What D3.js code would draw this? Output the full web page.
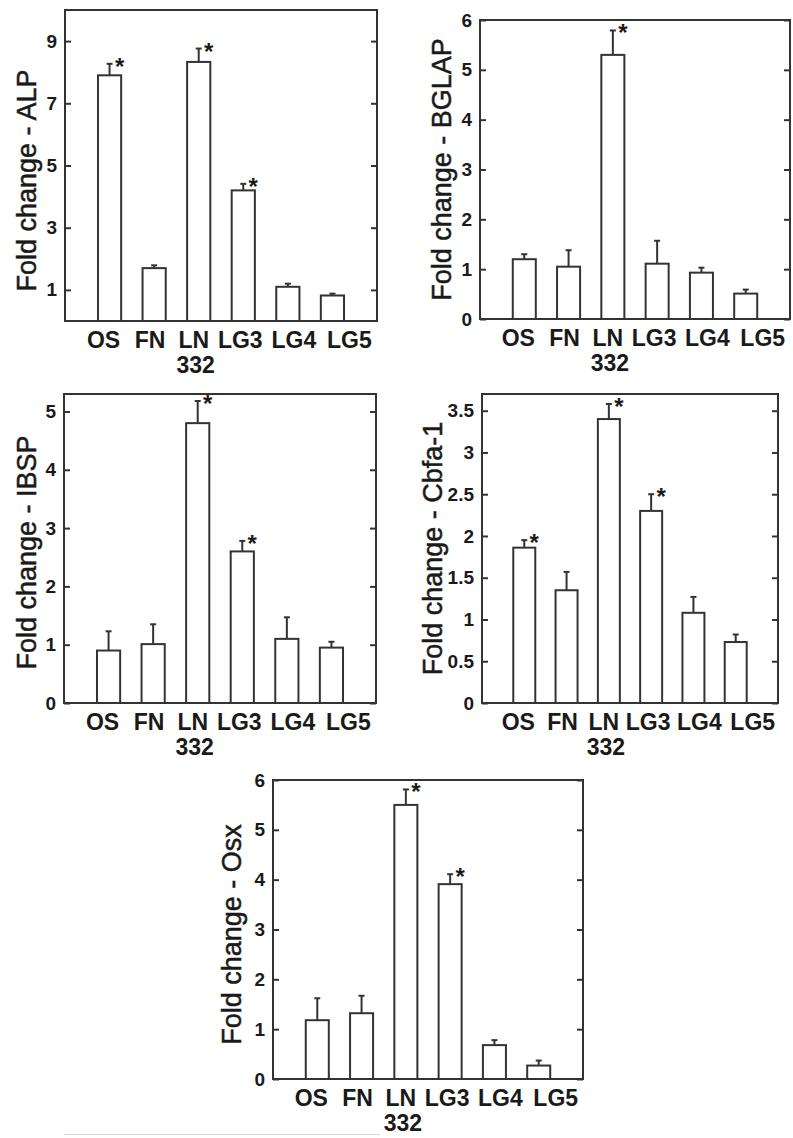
<!DOCTYPE html>
<html>
<head>
<meta charset="utf-8">
<script src="https://cdn.jsdelivr.net/npm/d3@7"></script>
<style>
  body { margin: 0; background: #fff; }
  text { font-family: "Liberation Sans", Arial, sans-serif; fill: #1a1a1a; }
</style>
</head>
<body>
<div id="chart-area"></div>
<script>
// categories shared by every panel
let categories = ["OS", "FN", "LN", "LG3", "LG4", "LG5"];
let groupLabel = "332";

// ALP
let alpMean = [7.9, 1.7, 8.33, 4.2, 1.1, 0.82];
let alpErr = [0.37, 0.09, 0.43, 0.21, 0.1, 0.06];
let alpStars = ["OS", "LN", "LG3"];
let alpTicks = [1, 3, 5, 7, 9];

// BGLAP
let bglapMean = [1.2, 1.05, 5.3, 1.11, 0.93, 0.51];
let bglapErr = [0.1, 0.33, 0.49, 0.46, 0.1, 0.08];
let bglapStars = ["LN"];
let bglapTicks = [0, 1, 2, 3, 4, 5, 6];

// IBSP
let ibspMean = [0.9, 1.01, 4.8, 2.6, 1.1, 0.95];
let ibspErr = [0.33, 0.34, 0.38, 0.18, 0.37, 0.1];
let ibspStars = ["LN", "LG3"];
let ibspTicks = [0, 1, 2, 3, 4, 5];

// Cbfa-1
let cbfaMean = [1.86, 1.35, 3.4, 2.3, 1.08, 0.73];
let cbfaErr = [0.09, 0.22, 0.18, 0.2, 0.19, 0.09];
let cbfaStars = ["OS", "LN", "LG3"];
let cbfaTicks = [0, 0.5, 1, 1.5, 2, 2.5, 3, 3.5];

// Osx
let osxMean = [1.18, 1.32, 5.5, 3.91, 0.68, 0.27];
let osxErr = [0.44, 0.35, 0.31, 0.2, 0.1, 0.1];
let osxStars = ["LN", "LG3"];
let osxTicks = [0, 1, 2, 3, 4, 5, 6];

// layout of the five panels (frame box in page pixels)
let panels = [
  { title: "Fold change - ALP", mean: alpMean, err: alpErr, stars: alpStars, ticks: alpTicks, max: 10,
    x: 65, y: 10, w: 312, h: 311, titleX: -38, titleDy: 15 },
  { title: "Fold change - BGLAP", mean: bglapMean, err: bglapErr, stars: bglapStars, ticks: bglapTicks, max: 6,
    x: 480, y: 20, w: 310, h: 299, titleX: -38, titleDy: 0 },
  { title: "Fold change - IBSP", mean: ibspMean, err: ibspErr, stars: ibspStars, ticks: ibspTicks, max: 5.3,
    x: 64, y: 394, w: 312, h: 309, titleX: -37, titleDy: 4 },
  { title: "Fold change - Cbfa-1", mean: cbfaMean, err: cbfaErr, stars: cbfaStars, ticks: cbfaTicks, max: 3.7,
    x: 482, y: 394, w: 296, h: 309, titleX: -49, titleDy: 0 },
  { title: "Fold change - Osx", mean: osxMean, err: osxErr, stars: osxStars, ticks: osxTicks, max: 6,
    x: 273, y: 780, w: 310, h: 299, titleX: -41, titleDy: 5 }
];

// the category text is typed a bit wider than the bars
let labelShift = [-6, -4, -5, -3, 6, 17];

let svg = d3.select("#chart-area").append("svg")
  .attr("width", 793).attr("height", 1138)
  .style("background", "#fff");

// faint rule at the page bottom
svg.append("line")
  .attr("x1", 64).attr("x2", 380).attr("y1", 1134.5).attr("y2", 1134.5)
  .attr("stroke", "#d6d6d6").attr("stroke-width", 1);

panels.forEach(p => {
  let g = svg.append("g").attr("transform", `translate(${p.x},${p.y})`);

  let x = d3.scalePoint().domain(categories).range([0, p.w]).padding(1);
  let y = d3.scaleLinear().domain([0, p.max]).range([p.h, 0]);
  let bw = x.step() * 0.52;

  // left axis with labels, ticks pointing inward
  let left = g.append("g").call(d3.axisLeft(y).tickValues(p.ticks).tickSize(-6).tickPadding(8).tickFormat(d => String(d)));
  left.select(".domain").remove();
  left.selectAll("line").attr("stroke", "#333").attr("stroke-width", 2);
  left.selectAll("text").attr("font-size", 19).attr("font-weight", "bold")
    .attr("font-family", "'Liberation Sans', Arial, sans-serif").attr("fill", "#1a1a1a");

  // right axis, ticks only
  let right = g.append("g").attr("transform", `translate(${p.w},0)`)
    .call(d3.axisRight(y).tickValues(p.ticks).tickSize(-6).tickFormat(""));
  right.select(".domain").remove();
  right.selectAll("line").attr("stroke", "#333").attr("stroke-width", 2);

  // frame
  g.append("rect").attr("width", p.w).attr("height", p.h)
    .attr("fill", "none").attr("stroke", "#333").attr("stroke-width", 2);

  let rows = categories.map((c, i) => ({ c: c, i: i, m: p.mean[i], e: p.err[i] }));

  // error bars
  g.selectAll(".err").data(rows).enter().append("line")
    .attr("x1", d => x(d.c)).attr("x2", d => x(d.c))
    .attr("y1", d => y(d.m)).attr("y2", d => y(d.m + d.e))
    .attr("stroke", "#333").attr("stroke-width", 2);
  g.selectAll(".cap").data(rows).enter().append("line")
    .attr("x1", d => x(d.c) - 3).attr("x2", d => x(d.c) + 3)
    .attr("y1", d => y(d.m + d.e)).attr("y2", d => y(d.m + d.e))
    .attr("stroke", "#333").attr("stroke-width", 2);

  // bars
  g.selectAll(".bar").data(rows).enter().append("rect")
    .attr("x", d => x(d.c) - bw / 2)
    .attr("y", d => y(d.m))
    .attr("width", bw)
    .attr("height", d => y(0) - y(d.m))
    .attr("fill", "#fff").attr("stroke", "#333").attr("stroke-width", 2);

  // significance stars
  g.selectAll(".star").data(rows.filter(d => p.stars.includes(d.c))).enter().append("text")
    .attr("x", d => x(d.c) + 10)
    .attr("y", d => y(d.m + d.e) + 11)
    .attr("text-anchor", "middle")
    .attr("font-size", 24).attr("font-weight", "bold")
    .attr("fill", "#333")
    .text("*");

  // category labels
  g.selectAll(".cat").data(rows).enter().append("text")
    .attr("x", d => x(d.c) + labelShift[d.i])
    .attr("y", p.h + 27)
    .attr("text-anchor", "middle")
    .attr("font-size", 23).attr("font-weight", "bold")
    .text(d => d.c);

  g.append("text")
    .attr("x", x("LN") - 3)
    .attr("y", p.h + 52)
    .attr("text-anchor", "middle")
    .attr("font-size", 23).attr("font-weight", "bold")
    .text(groupLabel);

  // y title
  g.append("text")
    .attr("transform", `translate(${p.titleX},${p.h / 2 + p.titleDy}) rotate(-90)`)
    .attr("text-anchor", "middle")
    .attr("dominant-baseline", "central")
    .attr("font-size", 27)
    .attr("stroke", "#1a1a1a").attr("stroke-width", 0.5)
    .text(p.title);
});
</script>
</body>
</html>
